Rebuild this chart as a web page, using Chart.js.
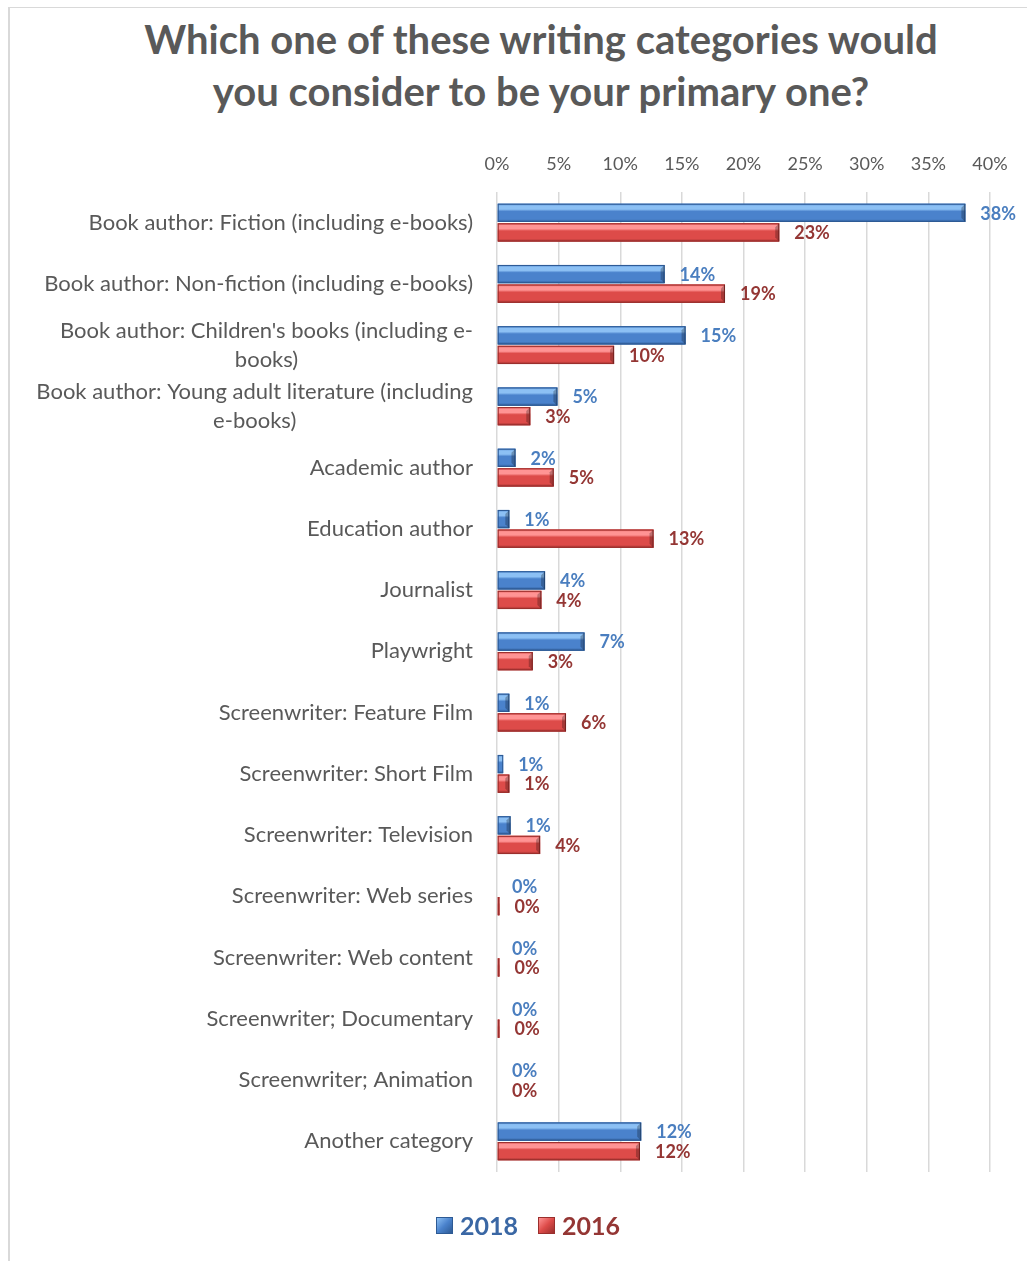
<!DOCTYPE html>
<html>
<head>
<meta charset="utf-8">
<script src="https://cdn.jsdelivr.net/npm/chart.js@4.4.1/dist/chart.umd.min.js"></script>
<style>
  html, body { margin: 0; padding: 0; background: #fff; overflow: hidden; width: 1027px; height: 1261px; }
  body { position: relative; font-family: Lato, "Open Sans", sans-serif; }
  #frame { position: absolute; left: 8px; top: 7px; width: 1100px; height: 1300px; border-left: 2px solid #d9d9d9; border-top: 1.5px solid #d9d9d9; }
  #title { position: absolute; left: 55px; width: 972px; top: 13px; margin: 0; text-align: center;
           font-size: 40px; line-height: 52px; font-weight: bold; color: #595959; }
  #writersChart { position: absolute; left: 0; top: 0; }
  #legend { position: absolute; top: 1210px; left: 0; width: 1056px; text-align: center; font-size: 25px; font-weight: bold; }
  #legend span.item { display: inline-block; margin: 0 10px; }
  #legend span.box { display: inline-block; width: 15px; height: 15px; margin-right: 7px; vertical-align: 1px; }
</style>
</head>
<body>
<div id="frame"></div>
<h1 id="title">Which one of these writing categories would<br>you consider to be your primary one?</h1>
<canvas id="writersChart" width="1027" height="1261"></canvas>
<div id="legend"></div>
<script>
// categories (wrapped ones as arrays of lines)
const categories = [
  'Book author: Fiction (including e-books)',
  'Book author: Non-fiction (including e-books)',
  ["Book author: Children's books (including e-", 'books)'],
  ['Book author: Young adult literature (including', 'e-books)'],
  'Academic author',
  'Education author',
  'Journalist',
  'Playwright',
  'Screenwriter: Feature Film',
  'Screenwriter: Short Film',
  'Screenwriter: Television',
  'Screenwriter: Web series',
  'Screenwriter: Web content',
  'Screenwriter; Documentary',
  'Screenwriter; Animation',
  'Another category'
];
const seriesNames = ['2018', '2016'];
const values2018 = [38, 13.6, 15.3, 4.9, 1.5, 1.0, 3.9, 7.1, 1.0, 0.5, 1.1, 0, 0, 0, 0, 11.7];
const values2016 = [22.9, 18.5, 9.5, 2.7, 4.6, 12.7, 3.6, 2.9, 5.6, 1.0, 3.5, 0.2, 0.2, 0.2, 0, 11.6];
const xMax = 40;
const xStep = 5;

const FONT = 'Lato, "Open Sans", sans-serif';
const blue = { light: '#8cc0f4', mid: '#4a82cc', dark: '#2d5a94', text: '#4a7ebf', legend: '#3a67a4' };
const red = { light: '#ff9494', mid: '#dd4b49', dark: '#9a2f2d', text: '#943634', legend: '#943634' };
const palette = [blue, red];

// glossy look painted over each bar element
const barShine = {
  id: 'barShine',
  afterDatasetsDraw(chart) {
    const ctx = chart.ctx;
    chart.data.datasets.forEach(function(ds, di) {
      const c = palette[di];
      chart.getDatasetMeta(di).data.forEach(function(el) {
        const p = el.getProps(['x', 'y', 'base', 'height'], true);
        const left = Math.min(p.base, p.x);
        const w = Math.abs(p.x - p.base);
        if (w < 0.5) return;
        const top = p.y - p.height / 2;
        const g = ctx.createLinearGradient(0, top, 0, top + p.height);
        g.addColorStop(0, c.mid);
        g.addColorStop(0.12, c.light);
        g.addColorStop(0.3, c.light);
        g.addColorStop(0.42, c.mid);
        g.addColorStop(0.85, c.mid);
        g.addColorStop(1, c.dark);
        ctx.save();
        ctx.fillStyle = g;
        ctx.fillRect(left, top, w, p.height);
        ctx.strokeStyle = c.dark;
        ctx.lineWidth = 1;
        ctx.strokeRect(left + 0.5, top + 0.5, Math.max(w - 1, 0.5), p.height - 1);
        if (w > 8) {
          ctx.fillStyle = 'rgba(0,0,0,0.25)';
          ctx.beginPath();
          ctx.moveTo(left + w, top);
          ctx.lineTo(left + w - 4, top + 4);
          ctx.lineTo(left + w - 4, top + p.height - 4);
          ctx.lineTo(left + w, top + p.height);
          ctx.fill();
        }
        ctx.restore();
      });
    });
  }
};

// value labels to the right of each bar
const valueLabels = {
  id: 'valueLabels',
  afterDatasetsDraw(chart) {
    const ctx = chart.ctx;
    ctx.save();
    ctx.font = 'bold 18px ' + FONT;
    ctx.textBaseline = 'middle';
    ctx.textAlign = 'left';
    chart.data.datasets.forEach(function(ds, di) {
      ctx.fillStyle = palette[di].text;
      chart.getDatasetMeta(di).data.forEach(function(el, i) {
        ctx.fillText(Math.round(ds.data[i]) + '%', el.x + 15, el.y + 1);
      });
    });
    ctx.restore();
  }
};

// category labels: block right aligned, wrapped lines centred on each other
const categoryLabels = {
  id: 'categoryLabels',
  afterDraw(chart) {
    const ctx = chart.ctx;
    const y = chart.scales.y;
    const right = chart.chartArea.left - 24;
    const lh = 29;
    ctx.save();
    ctx.font = '22px ' + FONT;
    ctx.fillStyle = '#595959';
    ctx.textBaseline = 'middle';
    categories.forEach(function(lab, i) {
      const yc = y.getPixelForTick(i);
      const lines = Array.isArray(lab) ? lab : [lab];
      const maxW = Math.max.apply(null, lines.map(function(l) { return ctx.measureText(l).width; }));
      ctx.textAlign = lines.length > 1 ? 'center' : 'right';
      const x = lines.length > 1 ? right - maxW / 2 : right;
      lines.forEach(function(l, k) {
        ctx.fillText(l, x, yc + (k - (lines.length - 1) / 2) * lh);
      });
    });
    ctx.restore();
  }
};

const chart = new Chart(document.getElementById('writersChart'), {
  type: 'bar',
  data: {
    labels: categories,
    datasets: [
      { label: seriesNames[0], data: values2018, backgroundColor: blue.mid, borderWidth: 0 },
      { label: seriesNames[1], data: values2016, backgroundColor: red.mid, borderWidth: 0 }
    ]
  },
  options: {
    indexAxis: 'y',
    responsive: false,
    animation: false,
    layout: { padding: { left: 20, right: 37, top: 120, bottom: 89 } },
    datasets: { bar: { categoryPercentage: 0.64, barPercentage: 0.93 } },
    plugins: {
      legend: { display: false },
      tooltip: { enabled: false }
    },
    scales: {
      x: {
        position: 'top',
        min: 0,
        max: xMax,
        ticks: {
          stepSize: xStep,
          color: '#595959',
          font: { family: FONT, size: 18 },
          padding: 17,
          callback: function(v) { return v + '%'; }
        },
        grid: { color: '#d9d9d9', lineWidth: 1.5, drawTicks: false },
        border: { display: false },
        afterFit: function(scale) { scale.height = 72; }
      },
      y: {
        ticks: { color: 'transparent', font: { family: FONT, size: 20 } },
        grid: { display: false },
        border: { display: false },
        afterFit: function(scale) { scale.width = 477; }
      }
    }
  },
  plugins: [barShine, valueLabels, categoryLabels]
});

// legend built from the dataset names and colours
const legendEl = document.getElementById('legend');
seriesNames.forEach(function(name, i) {
  const c = palette[i];
  const item = document.createElement('span');
  item.className = 'item';
  item.style.color = c.legend;
  const box = document.createElement('span');
  box.className = 'box';
  box.style.background = 'linear-gradient(135deg, ' + c.light + ' 0%, ' + c.mid + ' 50%, ' + c.dark + ' 100%)';
  box.style.border = '1px solid ' + c.dark;
  item.appendChild(box);
  item.appendChild(document.createTextNode(name));
  legendEl.appendChild(item);
});
</script>
</body>
</html>
